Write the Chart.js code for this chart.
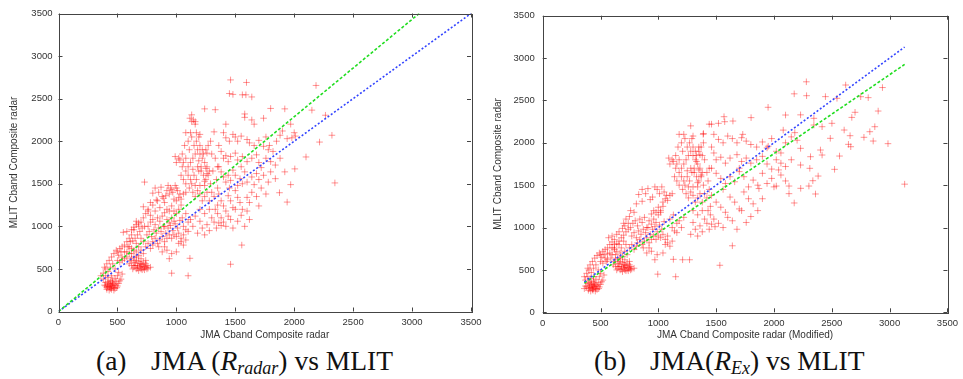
<!DOCTYPE html>
<html>
<head>
<meta charset="utf-8">
<script src="https://cdn.jsdelivr.net/npm/chart.js@4.4.1/dist/chart.umd.min.js"></script>
<style>
html,body{margin:0;padding:0;background:#fff;width:963px;height:379px;overflow:hidden;position:relative;}
canvas{position:absolute;}
.cap{position:absolute;font-family:"Liberation Serif","DejaVu Serif",serif;font-size:27.5px;line-height:27px;color:#111;white-space:nowrap;}
.cap i{font-style:italic;}
.cap sub{font-size:18px;font-style:italic;vertical-align:-4px;line-height:0;}
</style>
</head>
<body>
<canvas id="ca" style="left:0;top:0" width="490" height="345"></canvas>
<canvas id="cb" style="left:484px;top:0" width="479" height="345"></canvas>
<div class="cap" style="left:96px;top:347px">(a)</div>
<div class="cap" style="left:151px;top:347px">JMA (<i>R</i><sub>radar</sub>) vs MLIT</div>
<div class="cap" style="left:594px;top:347px">(b)</div>
<div class="cap" style="left:650px;top:347px">JMA(<i>R</i><sub>Ex</sub>) vs MLIT</div>
<script>
// ---- data ----
const tickValues = [0, 500, 1000, 1500, 2000, 2500, 3000, 3500];
const xTitleA = "JMA Cband Composite radar";
const xTitleB = "JMA Cband Composite radar (Modified)";
const yTitle = "MLIT Cband Composite radar";

const pointsA = [
[400,300],[410,280],[420,320],[430,290],[440,270],[450,300],[460,330],[470,280],[480,310],[490,350],[420,350],[440,360],[460,370],[480,390],[400,340],[390,310],[410,260],[430,250],[450,260],[470,250],[500,300],[510,330],[520,360],[440,310],[460,300],[430,330],[480,270],[495,280],[415,295],[445,285],[455,345],[470,320],[380,380],[400,420],[420,400],[450,420],[500,420],[530,380],[540,440],[510,460],
[600,560],[620,540],[640,520],[650,570],[660,500],[670,540],[680,590],[690,520],[700,500],[710,550],[720,510],[730,490],[740,520],[750,500],[760,510],[640,580],[660,600],[680,480],[700,560],[720,580],[610,600],[630,500],[690,560],[710,490],[730,530],[750,540],[700,530],[670,510],[650,540],[740,560],[620,620],[660,640],[700,620],[740,600],[780,520],
[360,420],[380,450],[400,500],[420,470],[440,520],[460,560],[480,500],[500,600],[520,580],[540,640],[560,620],[580,700],[600,680],[620,740],[640,720],[660,800],[680,760],[700,860],[720,820],[500,700],[520,740],[540,760],[560,780],[580,820],[600,860],[620,900],[550,930],[580,940],[620,960],[640,990],[660,1020],[680,1040],[450,640],[470,680],[490,720],[510,660],[530,700],[430,600],[410,560],[390,520],[600,760],[630,830],[650,860],[670,900],[690,940],[710,980],[730,1000],[560,700],[540,600],[580,640],[620,680],[660,700],[700,720],[740,760],[760,800],[780,740],[800,780],[720,680],[680,660],[640,640],[590,760],[610,820],
[720,1100],[740,1150],[760,1200],[780,1130],[800,1250],[820,1180],[840,1300],[860,1220],[880,1350],[900,1280],[920,1420],[940,1380],[960,1430],[980,1320],[1000,1450],[760,1000],[780,1050],[800,1080],[820,1020],[840,1100],[860,1060],[880,1120],[900,1000],[920,1080],[940,1040],[960,1100],[980,1060],[1000,1150],[1020,1200],[1040,1250],[750,900],[770,940],[790,880],[810,960],[830,920],[850,980],[870,940],[890,1000],[910,920],[930,980],[950,1010],[970,950],[990,1030],[1010,980],[1030,1070],[800,820],[820,860],[840,800],[860,840],[880,880],[900,820],[920,860],[940,900],[960,860],[980,900],[1000,880],[1020,920],[1040,860],[1060,900],[850,760],[880,700],[900,760],[920,720],[940,620],[960,680],[1000,700],[1020,800],[1040,820],[1060,780],[1080,840],[900,1160],[920,1200],[940,1180],[960,1240],[980,1180],[1000,1300],[1020,1340],[1040,1320],[1060,1380],[1080,1400],[850,1400],[870,1460],[890,1330],[910,1360],[930,1480],[950,1450],[970,1400],[990,1480],[1010,1420],[1030,1380],[730,1520],[800,1390],[830,1310],[780,1280],[760,1180],[720,1230],[700,1050],[680,1000],[660,1060],[640,960],[820,1450],[1050,1100],[1080,1150],[1100,1050],[1120,1080],[1140,1000],[1160,1120],[1060,1000],[1080,960],[1100,940],[960,450],[1100,420],[1115,625],
[1080,1650],[1100,1700],[1120,1750],[1140,1800],[1160,1850],[1180,1900],[1200,1950],[1220,1800],[1240,1750],[1260,1700],[1280,1650],[1150,1600],[1170,1550],[1190,1650],[1210,1700],[1230,1600],[1250,1550],[1270,1600],[1290,1500],[1130,1500],[1110,1450],[1160,1480],[1200,1480],[1240,1480],[1180,1700],[1200,1850],[1220,1900],[1210,1650],[1230,1850],[1250,1900],[1170,2000],[1190,2050],[1130,2050],[1120,2100],[1150,1950],[1110,1900],[1100,2000],[1080,1800],[1060,1750],[1050,1700],[1040,1600],[1060,1550],[1080,1500],[1100,1600],[1120,1550],[1000,1750],[1020,1800],[990,1820],[1030,1780],[1050,1850],[1070,1950],[1080,2100],[1160,2200],[1130,2310],[1115,2270],[1145,2250],[1160,2230],[1130,2230],[1320,2110],[1300,1850],[1330,1800],[1310,1650],[1350,1700],[1340,1550],[1300,1400],[1320,1350],[1350,1450],[1280,1300],[1260,1400],[1240,1350],[1220,1300],[1200,1380],[1180,1420],[1160,1350],[1140,1400],[1240,1530],[1250,1680],[1260,1860],[1270,1950],[1290,2000],[1200,2080],[1240,2380],[1330,2370],[1170,2100],[1190,1770],[1140,1670],[1260,1620],
[1460,2720],[1595,2690],[2185,2655],[1450,2560],[1480,2550],[1560,2545],[1590,2545],[1640,2520],[1580,2320],[1800,2385],[1920,2380],[2150,2365],[2265,2305],[1420,2200],[1580,2280],[1640,2250],[1660,2200],[1740,2270],[1970,2200],[2000,2100],[2010,2060],[1980,2040],[2320,2070],[2215,1990],[2100,1815],[2345,1510],[1970,1490],[1875,1395],[1940,1285],[2005,1675],[1920,1640],[1555,780],[1460,555],
[1400,2100],[1420,2040],[1450,2000],[1480,2080],[1500,2050],[1520,2000],[1550,2060],[1600,2020],[1620,1980],[1660,1950],[1700,2010],[1740,1940],[1760,2050],[1780,1900],[1820,1880],[1850,2000],[1880,2070],[1900,2120],[1940,2030],[1360,1950],[1380,1880],[1400,1800],[1420,1830],[1440,1760],[1460,1820],[1500,1860],[1520,1780],[1560,1820],[1600,1760],[1640,1800],[1680,1840],[1700,1750],[1720,1690],[1760,1800],[1800,1760],[1840,1720],[1880,1800],[1360,1700],[1380,1640],[1400,1580],[1420,1520],[1440,1600],[1460,1540],[1480,1660],[1500,1600],[1520,1480],[1540,1560],[1560,1500],[1580,1640],[1600,1520],[1640,1580],[1660,1490],[1680,1620],[1700,1550],[1740,1600],[1780,1520],[1800,1640],[1840,1560],[1360,1380],[1380,1300],[1400,1240],[1420,1180],[1440,1360],[1460,1300],[1480,1220],[1500,1420],[1520,1340],[1540,1280],[1560,1200],[1600,1340],[1620,1280],[1640,1400],[1680,1350],[1720,1450],[1760,1380],[1380,1100],[1400,1050],[1420,1000],[1440,1120],[1460,1080],[1480,980],[1500,1200],[1520,1060],[1550,1130],[1580,1000],[1600,1180],[1300,1100],[1320,1050],[1340,980],[1360,1040],[1280,950],[1260,1020],[1240,900],[1220,980],[1200,1060],[1180,920],[1380,1010],[1330,1200],[1350,1250],[1200,1200],[1240,1150],[1280,1200],[1620,1080],[1700,1240],[1790,1950],[1550,1700],[1450,1450],[1350,1150]
];

const pointsB = [
[380,300],[400,280],[410,320],[420,290],[430,270],[440,300],[450,330],[460,280],[470,310],[480,350],[400,350],[420,360],[440,370],[460,390],[390,340],[370,310],[395,260],[415,250],[435,260],[455,250],[490,300],[500,330],[510,360],[430,310],[450,300],[420,330],[470,270],[485,280],[405,295],[435,285],[445,345],[460,320],[370,380],[390,420],[410,400],[440,420],[490,420],[520,380],[530,440],[500,460],[360,280],
[610,560],[630,540],[650,520],[660,570],[670,500],[680,540],[690,590],[700,520],[710,500],[720,550],[730,510],[740,490],[750,520],[760,500],[770,510],[650,580],[670,600],[690,480],[710,560],[730,580],[620,600],[640,500],[700,560],[720,490],[740,530],[760,540],[710,530],[680,510],[660,540],[750,560],[630,620],[670,640],[710,620],[750,600],[790,520],
[360,420],[380,460],[400,500],[420,470],[440,520],[460,560],[480,500],[500,600],[520,580],[540,640],[560,620],[580,700],[600,680],[620,740],[640,720],[660,800],[680,760],[700,840],[720,800],[500,680],[520,720],[540,740],[560,760],[580,800],[600,830],[620,860],[570,880],[600,900],[640,920],[660,950],[690,990],[710,1020],[450,640],[470,670],[490,700],[510,650],[530,680],[430,600],[410,560],[390,520],[620,760],[640,810],[660,840],[680,880],[700,910],[720,950],[740,980],[560,690],[550,600],[590,640],[630,680],[670,700],[710,720],[750,760],[770,800],[790,740],[810,780],[730,680],[690,660],[650,640],[600,760],[620,800],
[760,1000],[780,1050],[800,1080],[820,1020],[840,1100],[860,1060],[880,1120],[900,1000],[920,1080],[940,1040],[960,1100],[980,1060],[1000,1150],[1020,1200],[1040,1250],[770,900],[790,940],[810,880],[830,960],[850,920],[870,980],[890,940],[910,1000],[930,920],[950,980],[970,1010],[990,950],[1010,1030],[1030,980],[1050,1070],[820,820],[840,860],[860,800],[880,840],[900,880],[920,820],[940,860],[960,900],[980,860],[1000,900],[1020,880],[1040,920],[1060,860],[1080,900],[870,760],[900,700],[920,760],[940,720],[970,620],[990,680],[1040,700],[1060,800],[1080,820],[1100,780],[1120,840],[940,1160],[960,1200],[980,1180],[1000,1240],[1020,1180],[1040,1300],[1060,1340],[1080,1320],[1100,1380],[1120,1400],[890,1400],[910,1460],[930,1330],[950,1360],[970,1480],[990,1450],[1010,1400],[1030,1480],[1050,1420],[1070,1380],[760,1200],[830,1390],[860,1310],[810,1280],[790,1180],[750,1130],[740,1050],[720,1100],[700,1050],[860,1450],[1100,1100],[1130,1150],[1160,1050],[1180,1080],[1200,1000],[1220,1120],[1120,1000],[1140,960],[1160,940],[995,450],[1150,420],[1130,625],[1270,620],[1210,620],
[1180,1650],[1200,1700],[1220,1750],[1240,1800],[1260,1850],[1280,1900],[1300,1950],[1320,1800],[1340,1750],[1360,1700],[1380,1650],[1250,1600],[1270,1550],[1290,1650],[1310,1700],[1330,1600],[1350,1550],[1370,1600],[1390,1500],[1230,1500],[1210,1450],[1260,1480],[1300,1480],[1340,1480],[1280,1700],[1300,1850],[1320,1900],[1310,1650],[1330,1850],[1350,1900],[1270,2000],[1290,2050],[1230,2050],[1220,2100],[1250,1950],[1210,1900],[1200,2000],[1180,1800],[1160,1750],[1150,1700],[1140,1600],[1160,1550],[1180,1500],[1200,1600],[1220,1550],[1100,1750],[1120,1800],[1090,1820],[1130,1780],[1150,1850],[1170,1950],[1180,2100],[1280,2200],[1350,1950],[1390,2110],[1440,2220],[1460,2220],[1520,2230],[1380,1850],[1400,1800],[1420,1650],[1440,1700],[1430,1550],[1400,1400],[1420,1350],[1440,1450],[1380,1300],[1360,1400],[1340,1350],[1320,1300],[1300,1380],[1280,1420],[1260,1350],[1240,1400],[1340,1530],[1350,1680],[1360,1860],[1370,1950],[1390,2000],[1300,2080],[1330,1780],[1250,1670],[1370,1620],
[2280,2720],[2175,2578],[2282,2556],[2620,2682],[2445,2545],[2545,2525],[2750,2544],[2815,2533],[2938,2652],[1949,2419],[2100,2328],[2230,2330],[2901,2375],[2701,2360],[2673,2300],[2872,2190],[2829,2131],[2778,2065],[2858,2021],[2986,1990],[2607,2151],[2658,2084],[2644,1982],[2664,1954],[2567,1844],[2524,1687],[3130,1512],[2487,2053],[2382,1608],[2336,1553],[2310,1699],[2302,1490],[2359,1396],[2231,1463],[2230,1935],[2230,1738],[2316,1836],[2402,1915],[2416,1856],[2345,2210],[2416,2190],[2345,2289],[2501,2230],[2130,1400],[2130,1490],[2175,1290],[1640,785],[1532,555],[1568,2308],[1574,2249],[1645,2257],[1802,2297],[1388,2100],[1730,2100],
[1480,2100],[1520,2040],[1560,2000],[1600,2080],[1640,2050],[1680,2000],[1720,2060],[1760,2020],[1800,1980],[1850,1950],[1900,2010],[1940,1940],[1980,2050],[2020,1900],[2060,1880],[2100,2000],[2150,2070],[2180,2120],[2200,2030],[1460,1950],[1480,1880],[1500,1800],[1540,1830],[1580,1760],[1620,1820],[1680,1860],[1720,1780],[1760,1820],[1800,1760],[1850,1800],[1900,1840],[1940,1750],[1980,1690],[2020,1800],[2060,1760],[2100,1720],[2150,1800],[1460,1700],[1500,1640],[1540,1580],[1580,1520],[1620,1600],[1660,1540],[1700,1660],[1740,1600],[1780,1480],[1820,1560],[1860,1500],[1900,1640],[1940,1520],[1980,1580],[2020,1490],[2060,1620],[2100,1550],[2040,1680],[1460,1380],[1500,1300],[1540,1240],[1580,1180],[1620,1360],[1660,1300],[1700,1220],[1740,1420],[1780,1340],[1820,1280],[1860,1200],[1900,1340],[1480,1100],[1520,1050],[1560,1000],[1600,1120],[1640,1080],[1680,980],[1720,1200],[1760,1060],[1800,1130],[1400,1100],[1420,1050],[1440,980],[1460,1040],[1380,950],[1360,1020],[1340,900],[1320,980],[1300,1060],[1280,920],[1490,1010],[1430,1200],[1450,1250],[1300,1200],[1340,1150],[1380,1200],[1870,1460],[1950,1960],[1700,1700],[1560,1450],[1450,1150],[2080,2150],[2000,1480]
];

// fitted lines (endpoints)
const greenA = [[0,0],[3060,3500]];
const blueA  = [[0,0],[3500,3500]];
const blueB  = [[360,360],[3130,3130]];
const greenB = [[360,345],[3130,2925]];

// ---- drawing ----
const toXY = arr => arr.map(p => ({x: p[0], y: p[1]}));
const TEXT = '#333';
const tickFont = {family: '"Liberation Sans", Arial, sans-serif', size: 9.5};
const titleFont = {family: '"Liberation Sans", Arial, sans-serif', size: 10};

const framePlugin = {
  id: 'frame',
  afterDatasetsDraw(chart) {
    const {ctx, chartArea: a, scales: {x, y}} = chart;
    ctx.save();
    ctx.strokeStyle = '#444';
    ctx.lineWidth = 1;
    ctx.strokeRect(Math.round(a.left) + 0.5, Math.round(a.top) + 0.5,
                   Math.round(a.right - a.left), Math.round(a.bottom - a.top));
    const L = 4;
    ctx.beginPath();
    x.ticks.forEach(t => {
      const px = Math.round(x.getPixelForValue(t.value)) + 0.5;
      ctx.moveTo(px, a.bottom); ctx.lineTo(px, a.bottom - L);
      ctx.moveTo(px, a.top); ctx.lineTo(px, a.top + L);
    });
    y.ticks.forEach(t => {
      const py = Math.round(y.getPixelForValue(t.value)) + 0.5;
      ctx.moveTo(a.left, py); ctx.lineTo(a.left + L, py);
      ctx.moveTo(a.right, py); ctx.lineTo(a.right - L, py);
    });
    ctx.stroke();
    ctx.restore();
  }
};

function makeChart(id, pts, lines, xTitle, geom) {
  return new Chart(document.getElementById(id), {
    type: 'scatter',
    data: {
      datasets: [
        ...lines.map(l => ({
          type: 'line', data: toXY(l.data), borderColor: l.color, borderWidth: 1.6,
          borderDash: l.dash, pointRadius: 0, fill: false, order: 0
        })),
        {
          data: toXY(pts), pointStyle: 'cross', pointRadius: 3.3, borderWidth: 1,
          borderColor: 'rgba(255,0,0,0.42)', backgroundColor: 'rgba(255,0,0,0.42)', order: 1
        }
      ]
    },
    options: {
      responsive: false, animation: false, events: [],
      layout: {padding: {top: geom.top, right: geom.right, left: 0, bottom: 0}},
      plugins: {legend: {display: false}, tooltip: {enabled: false}},
      scales: {
        x: {
          type: 'linear', min: 0, max: 3500,
          afterBuildTicks: s => { s.ticks = tickValues.map(v => ({value: v})); },
          afterFit: s => { s.height = geom.xh; },
          grid: {display: false, drawTicks: false}, border: {display: false},
          ticks: {color: TEXT, font: tickFont, padding: 5, maxRotation: 0, autoSkip: false,
                  callback: v => String(v)},
          title: {display: true, text: xTitle, color: TEXT, font: titleFont, padding: {top: 2, bottom: 4}}
        },
        y: {
          type: 'linear', min: 0, max: 3500,
          afterBuildTicks: s => { s.ticks = tickValues.map(v => ({value: v})); },
          afterFit: s => { s.width = geom.yw; },
          grid: {display: false, drawTicks: false}, border: {display: false},
          ticks: {color: TEXT, font: tickFont, padding: geom.ypad, autoSkip: false,
                  callback: v => String(v)},
          title: {display: true, text: yTitle, color: TEXT, font: titleFont, padding: {top: 8, bottom: 0}}
        }
      }
    },
    plugins: [framePlugin]
  });
}

makeChart('ca', pointsA, [
  {data: greenA, color: '#22dd22', dash: [3, 2]},
  {data: blueA, color: '#3344ff', dash: [2, 2]}
], xTitleA, {top: 13.5, right: 19, xh: 33.5, yw: 58.5, ypad: 6});

makeChart('cb', pointsB, [
  {data: blueB, color: '#3344ff', dash: [2, 2]},
  {data: greenB, color: '#22dd22', dash: [3, 2]}
], xTitleB, {top: 15.7, right: 11.3, xh: 32.7, yw: 58.7, ypad: 8});
</script>
</body>
</html>
